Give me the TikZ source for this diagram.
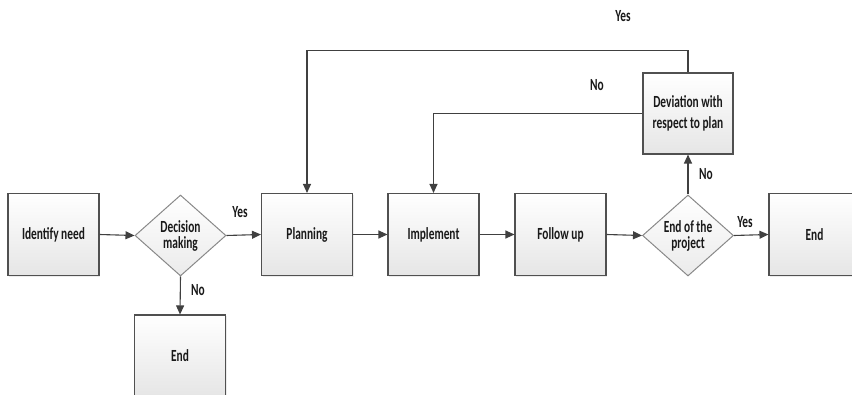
\documentclass[tikz,border=0pt]{standalone}
\usepackage{fontspec}
\setmainfont{Carlito}[FakeStretch=0.67]
\usetikzlibrary{shapes.geometric,arrows.meta,shadows}
\definecolor{linec}{HTML}{404040}
\definecolor{boxline}{HTML}{505050}
\definecolor{dialine}{HTML}{8A8A8A}
\tikzset{
  every node/.style={font=\fontsize{17}{16}\selectfont\bfseries, text=black!90},
  boxnode/.style={rectangle, draw=boxline, line width=1.1pt, top color=white, bottom color=black!10,
    minimum width=91pt, minimum height=82pt, inner sep=0pt, align=center,
    drop shadow={opacity=0.15, shadow xshift=1.2pt, shadow yshift=-1.2pt}},
  dianode/.style={diamond, draw=dialine, line width=1pt, top color=white, bottom color=black!8,
    minimum width=91pt, minimum height=81pt, inner sep=0pt, align=center},
  conn/.style={draw=linec, line width=1.1pt, -{Triangle[length=9pt,width=8pt]}},
  lbl/.style={inner sep=0pt}
}
\begin{document}
\begin{tikzpicture}[x=1pt,y=1pt]
\clip (0,0) rectangle (852,-395);
\fill[white] (0,0) rectangle (852,-395);

\node[boxnode] (need) at (53.5,-234.5) {Identify need};
\node[dianode] (dec) at (180.5,-235.5) {Decision\\making};
\node[boxnode] (plan) at (307,-234.5) {Planning};
\node[boxnode] (impl) at (433.5,-234.5) {Implement};
\node[boxnode] (follow) at (560.5,-234.5) {Follow up};
\node[dianode] (eop) at (688,-235.5) {End of the\\project};
\node[boxnode] (endr) at (814.5,-234.5) {End};
\node[boxnode] (endb) at (180,-356) {End};
\node[boxnode, minimum width=90pt, minimum height=81pt, font=\fontsize{17}{21}\selectfont\bfseries] (dev) at (688,-113.5) {Deviation with\\respect to plan};

\draw[conn] (need.east) -- (dec.west);
\draw[conn] (dec.east) -- (plan.west);
\draw[conn] (dec.south) -- (endb.north);
\draw[conn] (plan.east) -- (impl.west);
\draw[conn] (impl.east) -- (follow.west);
\draw[conn] (follow.east) -- (eop.west);
\draw[conn] (eop.east) -- (endr.west);
\draw[conn] (eop.north) -- (dev.south);
\draw[conn] (dev.north) -- ++(0,22) -| (plan.north);
\draw[conn] (dev.west) -| (impl.north);

\node[lbl] (yes1) at (240,-212) {Yes};
\node[lbl] (no1) at (198,-290) {No};
\node[lbl] (no2) at (706,-174) {No};
\node[lbl] (yes2) at (745,-222) {Yes};
\node[lbl] (yes3) at (623,-16) {Yes};
\node[lbl] (no3) at (597,-85) {No};
\end{tikzpicture}
\end{document}
